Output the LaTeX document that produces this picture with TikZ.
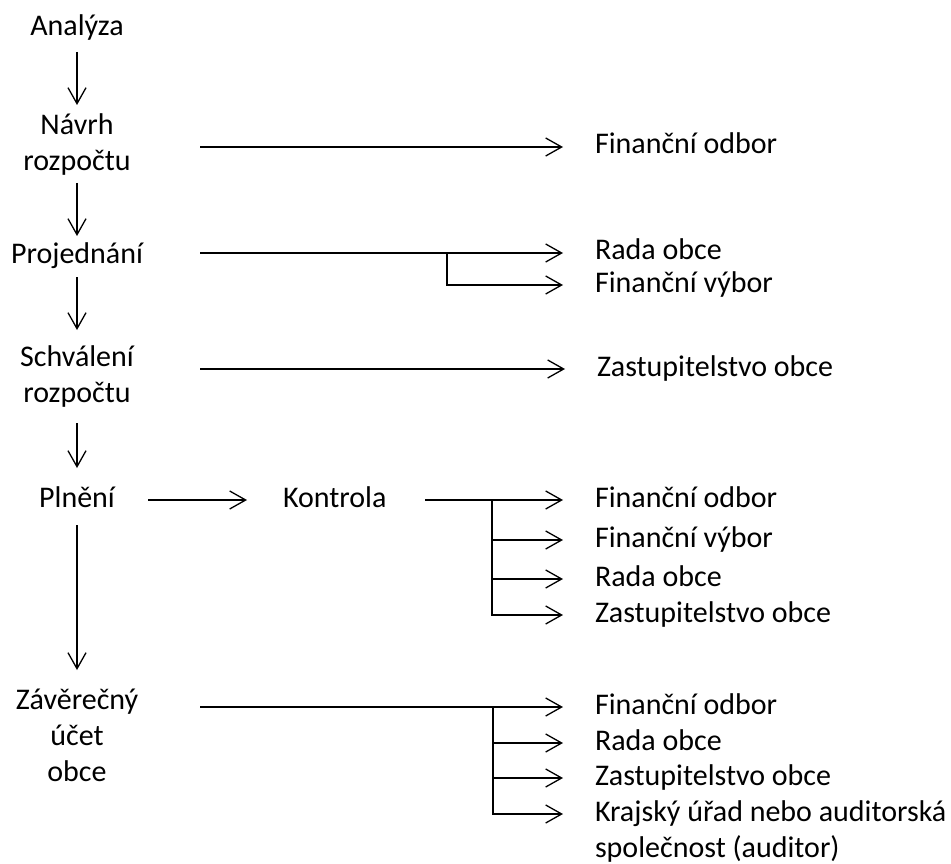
\documentclass[tikz,border=0pt]{standalone}
\usepackage{fontspec}
\setmainfont{Carlito}
\usetikzlibrary{arrows.meta}
\begin{document}
\begin{tikzpicture}[x=1pt,y=-1pt,line width=1.3pt,
  txt/.style={font=\fontsize{30}{36}\selectfont, inner sep=0pt, outer sep=0pt, text=black},
  lft/.style={txt, align=center},
  rgt/.style={txt, anchor=west},
  arr/.style={-{Straight Barb[length=16pt,width=18pt]}},
  tor/.style={arr, shorten >=32pt}]
\useasboundingbox (0,0) rectangle (951,864);
% left column
\node[lft] (a) at (77,28) {\strut Analýza};
\node[lft] (b) at (77,145.5) {\strut Návrh\\\strut rozpočtu};
\node[lft] (c) at (77,256) {\strut Projednání};
\node[lft] (d) at (77,377.5) {\strut Schválení\\\strut rozpočtu};
\node[lft] (e) at (77,500) {\strut Plnění};
\node[lft] (f) at (77,738.5) {\strut Závěrečný\\\strut účet\\\strut obce};
\node[rgt] (k) at (283,500) {\strut Kontrola};
% right column
\node[rgt] (r1) at (595,146) {\strut Finanční odbor};
\node[rgt] (r2) at (595,252) {\strut Rada obce};
\node[rgt] (r3) at (595,285) {\strut Finanční výbor};
\node[rgt] (r4) at (597,369) {\strut Zastupitelstvo obce};
\node[rgt] (k1) at (595,500) {\strut Finanční odbor};
\node[rgt] (k2) at (595,540) {\strut Finanční výbor};
\node[rgt] (k3) at (595,579) {\strut Rada obce};
\node[rgt] (k4) at (595,615) {\strut Zastupitelstvo obce};
\node[rgt] (z1) at (595,707) {\strut Finanční odbor};
\node[rgt] (z2) at (595,743) {\strut Rada obce};
\node[rgt] (z3) at (595,778) {\strut Zastupitelstvo obce};
\node[rgt, align=left] (z4) at (595,832) {\strut Krajský úřad nebo auditorská\\\strut společnost (auditor)};
% vertical flow
\draw[arr] ([yshift=-6pt]a.south) -- ([yshift=4.5pt]b.north);
\draw[arr] ([yshift=-1.5pt]b.south) -- ([yshift=2pt]c.north);
\draw[arr] ([yshift=-3pt]c.south) -- ([yshift=11.5pt]d.north);
\draw[arr] ([yshift=-9.5pt]d.south) -- ([yshift=14pt]e.north);
\draw[arr] ([yshift=-7pt]e.south) -- ([yshift=14.5pt]f.north);
% branch starts
\coordinate (bS) at (200,147);
\coordinate (cS) at (200,253);
\coordinate (cBr) at (447,253);
\coordinate (dS) at (200,369);
\coordinate (eS) at (148,500);
\coordinate (kS) at (425,500);
\coordinate (kBr) at (492,500);
\coordinate (fS) at (200,707);
\coordinate (fBr) at (493,707);
% connectors
\draw[tor] (bS) -- (bS -| r1.west);
\draw[tor] (cS) -- (cS -| r2.west);
\draw[tor] (cBr) |- (r3.west);
\draw[tor] (dS) -- (dS -| r4.west);
\draw[arr, shorten >=36pt] (eS) -- (eS -| k.west);
\draw[tor] (kS) -- (kS -| k1.west);
\draw[tor] (kBr) |- (k2.west);
\draw[tor] (kBr) |- (k3.west);
\draw[tor] (kBr) |- (k4.west);
\draw[tor] (fS) -- (fS -| z1.west);
\draw[tor] (fBr) |- (z2.west);
\draw[tor] (fBr) |- (z3.west);
\draw[tor] (fBr) |- ([yshift=18pt]z4.west);
\end{tikzpicture}
\end{document}
